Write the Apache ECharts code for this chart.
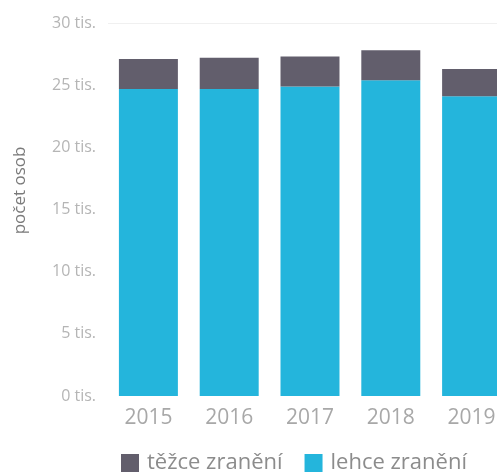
<!DOCTYPE html>
<html>
<head>
<meta charset="utf-8">
<script src="https://cdn.jsdelivr.net/npm/echarts@6/dist/echarts.min.js"></script>
<style>html,body{margin:0;padding:0;background:#fff;overflow:hidden;}#c{width:497px;height:475px;}</style>
</head>
<body>
<div id="c"></div>
<script>
var categories = ['2015', '2016', '2017', '2018', '2019'];
var severe = [2400, 2500, 2400, 2400, 2200];
var light = [24700, 24700, 24900, 25400, 24100];
var seriesNames = ['těžce zranění', 'lehce zranění'];
var yTicks = [0, 5000, 10000, 15000, 20000, 25000, 30000];

var chart = echarts.init(document.getElementById('c'));
chart.setOption({
  animation: false,
  grid: { left: 108, width: 404, top: 23, bottom: 79, containLabel: false, outerBoundsMode: 'none' },
  legend: {
    left: 116, top: 447,
    itemWidth: 18, itemHeight: 18, itemGap: 22,
    icon: 'rect',
    data: [seriesNames[0], seriesNames[1]],
    textStyle: { fontFamily: 'Open Sans', fontSize: 22, color: '#8c8c8c', padding: [0, 0, 0, 3] }
  },
  xAxis: {
    type: 'category',
    data: categories,
    axisLine: { show: false },
    axisTick: { show: false },
    axisLabel: { margin: 12, fontFamily: 'Open Sans', fontSize: 21, color: '#a8a8a8' }
  },
  yAxis: {
    type: 'value',
    min: 0, max: 30000, interval: 5000,
    name: 'počet osob',
    nameLocation: 'middle',
    nameGap: 79,
    nameTextStyle: { fontFamily: 'Open Sans', fontSize: 17, color: '#7a7a7a', padding: [0, 0, 0, 38] },
    axisLine: { show: false },
    axisTick: { show: false },
    splitLine: { lineStyle: { color: ['rgba(0,0,0,0)', 'rgba(0,0,0,0)', 'rgba(0,0,0,0)', 'rgba(0,0,0,0)', 'rgba(0,0,0,0)', 'rgba(0,0,0,0)', '#f0f0f0'] } },
    axisLabel: {
      margin: 12, fontFamily: 'Open Sans', fontSize: 16, color: '#b5b5b5',
      formatter: function (v) { return (v / 1000) + ' tis.'; }
    }
  },
  series: [
    { name: seriesNames[1], type: 'bar', stack: 't', data: light, barCategoryGap: '27%', itemStyle: { color: '#24b5dc' } },
    { name: seriesNames[0], type: 'bar', stack: 't', data: severe, itemStyle: { color: '#625e6c' } }
  ]
});
</script>
</body>
</html>
